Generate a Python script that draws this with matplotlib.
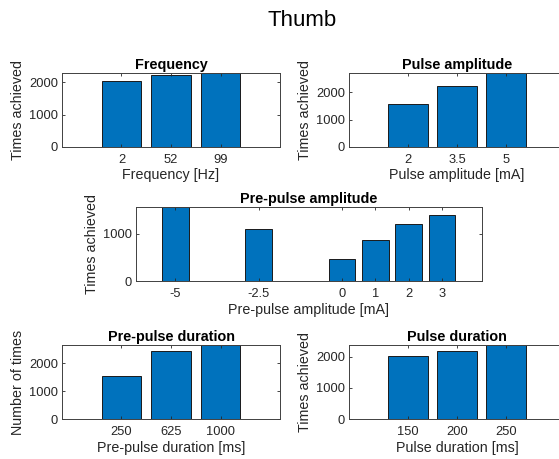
import matplotlib
matplotlib.use("Agg")
import matplotlib.pyplot as plt
import numpy as np

plt.rcParams['font.family'] = ['Liberation Sans', 'DejaVu Sans']

# data
freq_labels = ['2', '52', '99']
freq_counts = [2041, 2238, 2300]

pamp_labels = ['2', '3.5', '5']
pamp_counts = [1558, 2221, 2724]

prepamp_x = [-5, -2.5, 0, 1, 2, 3]
prepamp_labels = ['-5', '-2.5', '0', '1', '2', '3']
prepamp_counts = [1567, 1099, 461, 865, 1220, 1397]

predur_labels = ['250', '625', '1000']
predur_counts = [1536, 2429, 2655]

pdur_labels = ['150', '200', '250']
pdur_counts = [2021, 2203, 2385]

BLUE = '#0072BD'
GREY = '#262626'
W, H = 559, 459


def px_axes(fig, left, top, right, bottom):
    return fig.add_axes([left / W, 1 - bottom / H, (right - left) / W, (bottom - top) / H])


def style(ax, title, xlabel, ylabel, yticks):
    ax.set_title(title, fontsize=10.4, fontweight='bold', color='black', pad=3)
    ax.set_xlabel(xlabel, fontsize=10.3, color=GREY, labelpad=2)
    ax.set_ylabel(ylabel, fontsize=10.3, color=GREY, labelpad=3)
    ax.set_yticks(yticks)
    ax.tick_params(direction='in', length=2.5, width=0.6, colors=GREY,
                   labelsize=9.3, top=True, right=True)
    ax.tick_params(axis='x', pad=5)
    ax.tick_params(axis='y', pad=3)
    for s in ax.spines.values():
        s.set_color('#404040')
        s.set_linewidth(0.7)


def cat_bar(ax, labels, counts):
    x = np.arange(len(labels))
    ax.bar(x, counts, width=0.8, color=BLUE, edgecolor='#1a1a1a', linewidth=0.7)
    ax.set_xticks(x)
    ax.set_xticklabels(labels)
    ax.set_xlim(-1.2, len(labels) + 0.2)
    ax.set_ylim(0, max(counts))


fig = plt.figure(figsize=(W / 100, H / 100), dpi=100)
fig.text(302 / W, 1 - 21 / H, 'Thumb', ha='center', va='center', fontsize=16, color='black')

ax1 = px_axes(fig, 62, 72.7, 280, 146.7)
cat_bar(ax1, freq_labels, freq_counts)
style(ax1, 'Frequency', 'Frequency [Hz]', 'Times achieved', [0, 1000, 2000])

ax2 = px_axes(fig, 349, 72.7, 565, 146.7)
cat_bar(ax2, pamp_labels, pamp_counts)
style(ax2, 'Pulse amplitude', 'Pulse amplitude [mA]', 'Times achieved', [0, 1000, 2000])

ax3 = px_axes(fig, 136, 207.3, 482, 281)
ax3.bar(prepamp_x, prepamp_counts, width=0.8, color=BLUE, edgecolor='#1a1a1a', linewidth=0.7)
ax3.set_xticks(prepamp_x)
ax3.set_xticklabels(prepamp_labels)
ax3.set_xlim(-6.18, 4.2)
ax3.set_ylim(0, max(prepamp_counts))
style(ax3, 'Pre-pulse amplitude', 'Pre-pulse amplitude [mA]', 'Times achieved', [0, 1000])

ax4 = px_axes(fig, 62, 345, 280, 419)
cat_bar(ax4, predur_labels, predur_counts)
style(ax4, 'Pre-pulse duration', 'Pre-pulse duration [ms]', 'Number of times', [0, 1000, 2000])

ax5 = px_axes(fig, 349, 345, 565, 419)
cat_bar(ax5, pdur_labels, pdur_counts)
style(ax5, 'Pulse duration', 'Pulse duration [ms]', 'Times achieved', [0, 1000, 2000])

fig.savefig('out.png', dpi=100)
